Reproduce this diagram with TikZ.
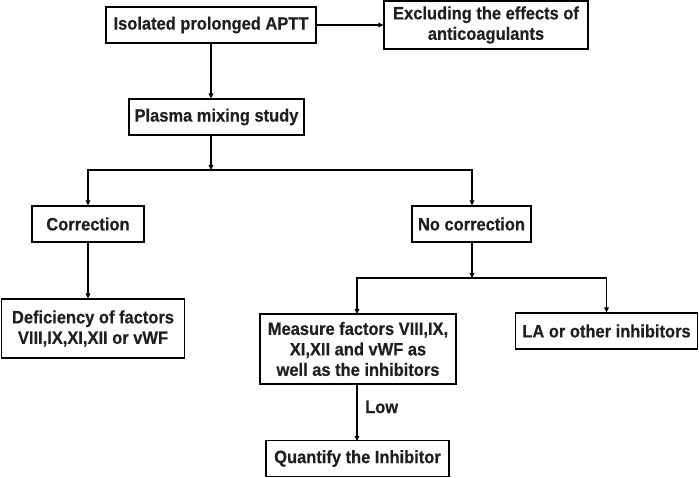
\documentclass[tikz,border=0pt]{standalone}
\usepackage{fontspec}
\setmainfont{Liberation Sans}
\newfontfamily\tallfont{Liberation Sans}[FakeStretch=0.92,FakeBold=0.4]
\usetikzlibrary{arrows.meta}
\begin{document}
\begin{tikzpicture}[x=1pt,y=-1pt,
  box/.style={draw=black,line width=1.2pt,align=center,inner sep=0pt,
    font=\tallfont\fontsize{17.9}{20.5}\selectfont\bfseries,text=black!88},
  lbl/.style={font=\tallfont\fontsize{17.9}{20.5}\selectfont\bfseries,text=black!88,inner sep=0pt},
  arr/.style={draw=black,line width=1.2pt,-{Triangle[length=5pt,width=4.5pt]}}]
\useasboundingbox (0,0) rectangle (699,478);
\node[box,minimum width=210pt,minimum height=36pt] (n1) at (211,25) {Isolated prolonged APTT};
\node[box,minimum width=204pt,minimum height=48pt] (n2) at (486,25) {Excluding the effects of\\anticoagulants};
\node[box,minimum width=175pt,minimum height=36pt] (n3) at (216.5,117) {Plasma mixing study};
\node[box,minimum width=112pt,minimum height=36pt] (n4) at (88,224) {Correction};
\node[box,minimum width=119pt,minimum height=36pt] (n5) at (471.5,224) {No correction};
\node[box,minimum width=183pt,minimum height=59pt] (n6) at (93,328.5) {Deficiency of factors\\VIII,IX,XI,XII or vWF};
\node[box,minimum width=196pt,minimum height=70pt] (n7) at (358,349) {Measure factors VIII,IX,\\XI,XII and vWF as\\well as the inhibitors};
\node[box,minimum width=182pt,minimum height=36pt] (n8) at (606.5,331) {LA or other inhibitors};
\node[box,minimum width=183pt,minimum height=36pt] (n9) at (357.5,458.5) {Quantify the Inhibitor};
\coordinate (j1) at (211,170);
\coordinate (j2) at (472,278);
\draw[arr] (n1.east) -- (n1.east -| n2.west);
\draw[arr] (n1.south) -- (n1.south |- n3.north);
\draw[arr] (n3.south -| j1) -- (j1);
\draw[arr] (j1) -| (n4.north);
\draw[arr] (j1) -| (n5.north -| j2);
\draw[arr] (n4.south) -- (n4.south |- n6.north);
\draw[arr] (n5.south -| j2) -- (j2);
\draw[arr] (j2) -| (357,314);
\draw[arr] (j2) -| (n8.north);
\draw[arr] (357,384) -- (357,441);
\node[lbl,anchor=west] (low) at (365,407) {Low};
\end{tikzpicture}
\end{document}
